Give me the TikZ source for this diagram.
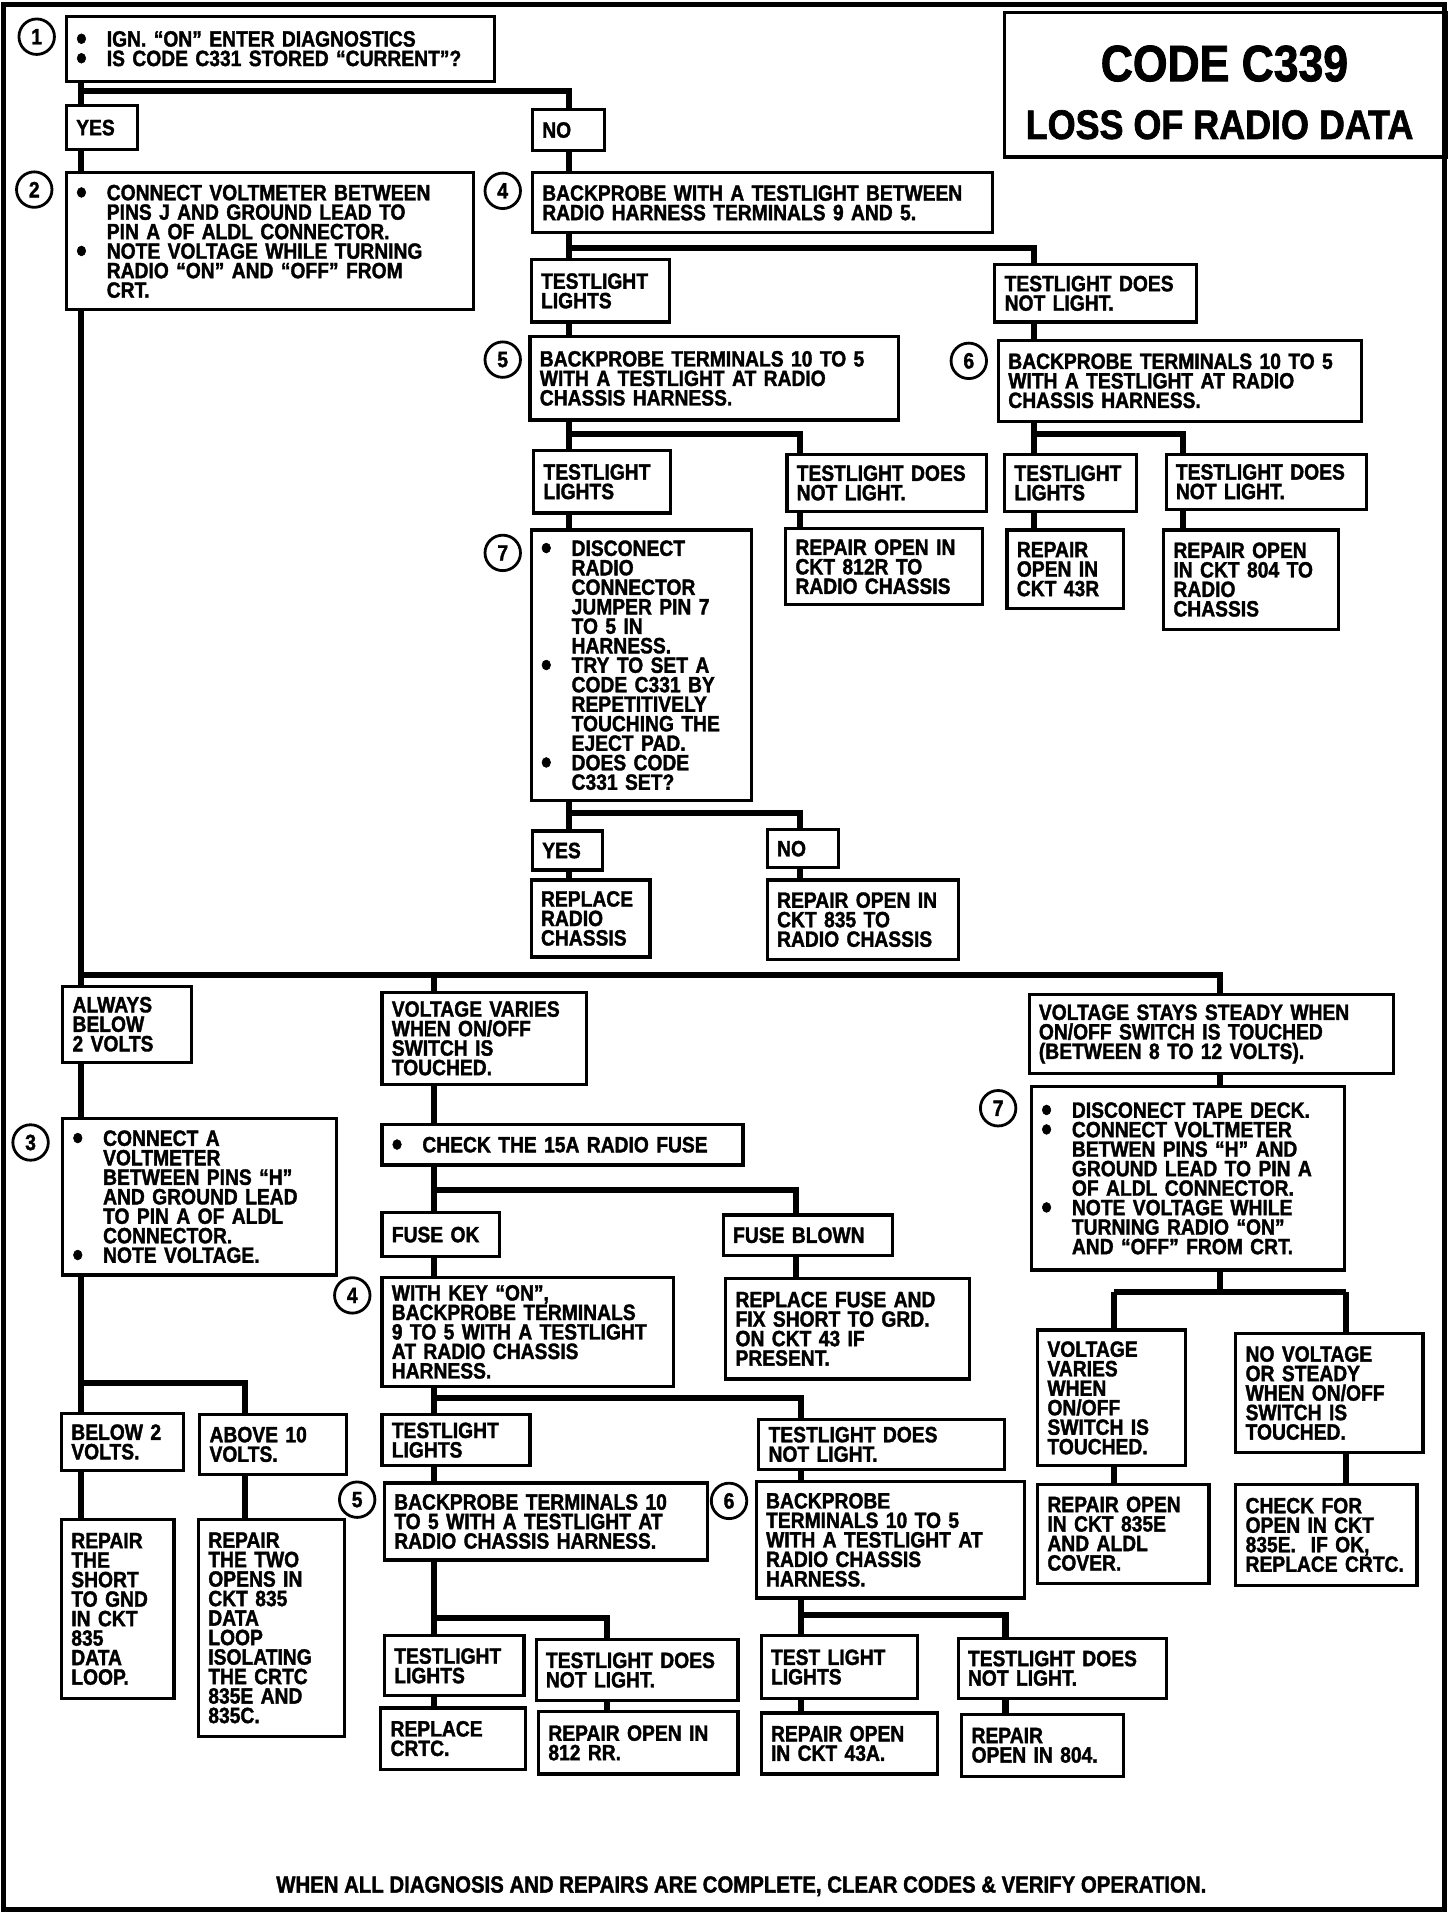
\documentclass[tikz,border=0pt]{standalone}
\usepackage{fontspec}
\setmainfont{Liberation Sans}[FakeStretch=0.87, BoldFeatures={FakeBold=1.6}]
\usepackage{tikz}

\newcommand{\boxfont}{\bfseries\fontsize{10.3}{9.07}\selectfont\lineskiplimit=-5pt}
\newcommand{\blt}{\makebox[0.5cm][l]{\smash{\raisebox{-0.16em}{\fontsize{16}{0}\selectfont\textbullet}}}}
\newcommand{\hng}{\hspace*{0.5cm}}

\begin{document}
\begin{tikzpicture}[x=0.02cm, y=-0.02cm, line join=miter,
  box/.style={draw, line width=1.5pt, anchor=north west, inner xsep=0.16cm, inner ysep=0pt, align=left, font=\boxfont},
  sz/.style 2 args={minimum width=#1*0.02cm, minimum height=#2*0.02cm, text width=#1*0.02cm-0.32cm},
  wire/.style={line width=2.8pt},
  num/.style={draw, circle, line width=1.3pt, minimum size=0.58cm, inner sep=0pt, font=\boxfont}]

\useasboundingbox (0,0) rectangle (1190,1568);

% Cornice e titolo
\draw[line width=2.4pt] (3,4) rectangle (1181,1561);
\node[box, minimum width=361*0.02cm, minimum height=118*0.02cm] (tbox) at (820,9) {};
\node[font=\bfseries\fontsize{23.8}{24}\selectfont] (t1) at (1001,52) {CODE C339};
\node[font=\bfseries\fontsize{19.2}{20}\selectfont] (t2) at (997,102) {LOSS OF RADIO DATA};

% Parte alta
\node[box, sz={350}{53}] (q1) at (53,12) {\blt IGN. ``ON'' ENTER DIAGNOSTICS\\ \blt IS CODE C331 STORED ``CURRENT''?};
\node[box, sz={58}{36}] (yes1) at (53,85) {YES};
\node[box, sz={59}{34}] (no1) at (434,88) {NO};
\node[box, sz={333}{112}] (s2) at (53,140) {\blt CONNECT VOLTMETER BETWEEN\\ \hng PINS J AND GROUND LEAD TO\\ \hng PIN A OF ALDL CONNECTOR.\\ \blt NOTE VOLTAGE WHILE TURNING\\ \hng RADIO ``ON'' AND ``OFF'' FROM\\ \hng CRT.};
\node[box, sz={376}{49}] (s4) at (434,140) {BACKPROBE WITH A TESTLIGHT BETWEEN\\ RADIO HARNESS TERMINALS 9 AND 5.};
\node[box, sz={113}{51}] (tl1) at (433,211) {TESTLIGHT\\ LIGHTS};
\node[box, sz={165}{47}] (tn1) at (812,215) {TESTLIGHT DOES\\ NOT LIGHT.};
\node[box, sz={301}{68}] (s5) at (432,274) {BACKPROBE TERMINALS 10 TO 5\\ WITH A TESTLIGHT AT RADIO\\ CHASSIS HARNESS.};
\node[box, sz={297}{66}] (s6) at (815,277) {BACKPROBE TERMINALS 10 TO 5\\ WITH A TESTLIGHT AT RADIO\\ CHASSIS HARNESS.};
\node[box, sz={112}{51}] (tl5) at (435,367) {TESTLIGHT\\ LIGHTS};
\node[box, sz={163}{47}] (tn5) at (642,370) {TESTLIGHT DOES\\ NOT LIGHT.};
\node[box, sz={108}{47}] (tl6) at (820,370) {TESTLIGHT\\ LIGHTS};
\node[box, sz={164}{45}] (tn6) at (952,370) {TESTLIGHT DOES\\ NOT LIGHT.};
\node[box, sz={180}{221}] (s7) at (433,432) {\blt DISCONECT\\ \hng RADIO\\ \hng CONNECTOR\\ \hng JUMPER PIN 7\\ \hng TO 5 IN\\ \hng HARNESS.\\ \blt TRY TO SET A\\ \hng CODE C331 BY\\ \hng REPETITIVELY\\ \hng TOUCHING THE\\ \hng EJECT PAD.\\ \blt DOES CODE\\ \hng C331 SET?};
\node[box, sz={161}{62}] (r812) at (641,431) {REPAIR OPEN IN\\ CKT 812R TO\\ RADIO CHASSIS};
\node[box, sz={95}{64}] (r43r) at (822,432) {REPAIR\\ OPEN IN\\ CKT 43R};
\node[box, sz={143}{81}] (r804) at (950,432) {REPAIR OPEN\\ IN CKT 804 TO\\ RADIO\\ CHASSIS};
\node[box, sz={57}{32}] (yes7) at (434,678) {YES};
\node[box, sz={58}{31}] (no7) at (626,677) {NO};
\node[box, sz={97}{63}] (rrc) at (433,718) {REPLACE\\ RADIO\\ CHASSIS};
\node[box, sz={156}{65}] (r835) at (626,718) {REPAIR OPEN IN\\ CKT 835 TO\\ RADIO CHASSIS};

% Parte bassa
\node[box, sz={105}{62}] (ab2) at (50,805) {ALWAYS\\ BELOW\\ 2 VOLTS};
\node[box, sz={167}{75}] (vv) at (311,810) {VOLTAGE VARIES\\ WHEN ON/OFF\\ SWITCH IS\\ TOUCHED.};
\node[box, sz={298}{64}] (vs) at (840,812) {VOLTAGE STAYS STEADY WHEN\\ ON/OFF SWITCH IS TOUCHED\\ (BETWEEN 8 TO 12 VOLTS).};
\node[box, sz={224}{128}] (s3) at (50,913) {\blt CONNECT A\\ \hng VOLTMETER\\ \hng BETWEEN PINS ``H''\\ \hng AND GROUND LEAD\\ \hng TO PIN A OF ALDL\\ \hng CONNECTOR.\\ \blt NOTE VOLTAGE.};
\node[box, sz={295}{33}] (chk) at (311,918) {\blt CHECK THE 15A RADIO FUSE};
\node[box, sz={96}{36}] (fok) at (311,990) {FUSE OK};
\node[box, sz={138}{33}] (fbl) at (590,992) {FUSE BLOWN};
\node[box, sz={256}{150}] (s7b) at (842,887) {\blt DISCONECT TAPE DECK.\\ \blt CONNECT VOLTMETER\\ \hng BETWEN PINS ``H'' AND\\ \hng GROUND LEAD TO PIN A\\ \hng OF ALDL CONNECTOR.\\ \blt NOTE VOLTAGE WHILE\\ \hng TURNING RADIO ``ON''\\ \hng AND ``OFF'' FROM CRT.};
\node[box, sz={238}{89}] (s4b) at (311,1043) {WITH KEY ``ON'',\\ BACKPROBE TERMINALS\\ 9 TO 5 WITH A TESTLIGHT\\ AT RADIO CHASSIS\\ HARNESS.};
\node[box, sz={199}{82}] (rfuse) at (592,1044) {REPLACE FUSE AND\\ FIX SHORT TO GRD.\\ ON CKT 43 IF\\ PRESENT.};
\node[box, sz={121}{111}] (vv2) at (847,1086) {VOLTAGE\\ VARIES\\ WHEN\\ ON/OFF\\ SWITCH IS\\ TOUCHED.};
\node[box, sz={153}{97}] (nv) at (1009,1089) {NO VOLTAGE\\ OR STEADY\\ WHEN ON/OFF\\ SWITCH IS\\ TOUCHED.};
\node[box, sz={100}{47}] (b2v) at (49,1154) {BELOW 2\\ VOLTS.};
\node[box, sz={120}{49}] (a10) at (162,1155) {ABOVE 10\\ VOLTS.};
\node[box, sz={121}{42}] (tlb) at (311,1155) {TESTLIGHT\\ LIGHTS};
\node[box, sz={201}{41}] (tnb) at (619,1159) {TESTLIGHT DOES\\ NOT LIGHT.};
\node[box, sz={264}{63}] (s5b) at (313,1211) {BACKPROBE TERMINALS 10\\ TO 5 WITH A TESTLIGHT AT\\ RADIO CHASSIS HARNESS.};
\node[box, sz={219}{95}] (s6b) at (617,1210) {BACKPROBE\\ TERMINALS 10 TO 5\\ WITH A TESTLIGHT AT\\ RADIO CHASSIS\\ HARNESS.};
\node[box, sz={140}{81}] (r835e) at (847,1212) {REPAIR OPEN\\ IN CKT 835E\\ AND ALDL\\ COVER.};
\node[box, sz={148}{83}] (chko) at (1009,1212) {CHECK FOR\\ OPEN IN CKT\\ 835E.\ \ IF OK,\\ REPLACE CRTC.};
\node[box, sz={92}{146}] (rshort) at (49,1241) {REPAIR\\ THE\\ SHORT\\ TO GND\\ IN CKT\\ 835\\ DATA\\ LOOP.};
\node[box, sz={119}{177}] (rtwo) at (161,1241) {REPAIR\\ THE TWO\\ OPENS IN\\ CKT 835\\ DATA\\ LOOP\\ ISOLATING\\ THE CRTC\\ 835E AND\\ 835C.};
\node[box, sz={114}{49}] (tl5b) at (313,1336) {TESTLIGHT\\ LIGHTS};
\node[box, sz={165}{50}] (tn5b) at (437,1339) {TESTLIGHT DOES\\ NOT LIGHT.};
\node[box, sz={128}{51}] (tl6b) at (621,1336) {TEST LIGHT\\ LIGHTS};
\node[box, sz={170}{49}] (tn6b) at (782,1338) {TESTLIGHT DOES\\ NOT LIGHT.};
\node[box, sz={118}{50}] (rcrtc) at (310,1395) {REPLACE\\ CRTC.};
\node[box, sz={163}{51}] (r812rr) at (439,1398) {REPAIR OPEN IN\\ 812 RR.};
\node[box, sz={144}{50}] (r43a) at (621,1399) {REPAIR OPEN\\ IN CKT 43A.};
\node[box, sz={132}{51}] (r804b) at (785,1400) {REPAIR\\ OPEN IN 804.};

% Numeri dei passi
\node[num] (n1) at (30,30) {1};
\node[num] (n2) at (28,155) {2};
\node[num] (n4) at (411,156) {4};
\node[num] (n5) at (411,294) {5};
\node[num] (n6) at (792,295) {6};
\node[num] (n7) at (411,452) {7};
\node[num] (n3) at (25,934) {3};
\node[num] (n7b) at (816,906) {7};
\node[num] (n4b) at (288,1059) {4};
\node[num] (n5b) at (292,1226) {5};
\node[num] (n6b) at (596,1227) {6};

% Nota finale
\node[font=\bfseries\fontsize{10.9}{11}\selectfont] (note) at (606,1542) {WHEN ALL DIAGNOSIS AND REPAIRS ARE COMPLETE, CLEAR CODES \& VERIFY OPERATION.};

% Punti di diramazione
\coordinate (j1) at (66,74);    \coordinate (j1r) at (465,74);
\coordinate (j4) at (465,203);  \coordinate (j4r) at (845,203);
\coordinate (j5) at (465,355);  \coordinate (j5r) at (654,355);
\coordinate (j6) at (845,355);  \coordinate (j6r) at (967,355);
\coordinate (j7) at (465,665);  \coordinate (j7r) at (654,665);
\coordinate (j2) at (66,797);   \coordinate (j2m) at (355,797);  \coordinate (j2r) at (997,797);
\coordinate (jf) at (355,973);  \coordinate (jfr) at (651,973);
\coordinate (j3) at (66,1131);  \coordinate (j3r) at (200,1131);
\coordinate (j8) at (997,1056); \coordinate (j8l) at (911,1056); \coordinate (j8r) at (1100,1056);
\coordinate (j4b) at (355,1143); \coordinate (j4br) at (655,1143);
\coordinate (j5b) at (355,1323); \coordinate (j5br) at (496,1323);
\coordinate (j6b) at (655,1320); \coordinate (j6br) at (822,1320);

% Collegamenti - parte alta
\draw[wire] (q1.south -| j1) -- (yes1.north -| j1);
\draw[wire] (j1) -- (j1r) -- (no1.north -| j1r);
\draw[wire] (yes1.south -| j1) -- (s2.north -| j1);
\draw[wire] (no1.south -| j1r) -- (s4.north -| j1r);
\draw[wire] (s4.south -| j4) -- (tl1.north -| j4);
\draw[wire] (j4) -- (j4r) -- (tn1.north -| j4r);
\draw[wire] (tl1.south -| j4) -- (s5.north -| j4);
\draw[wire] (tn1.south -| j4r) -- (s6.north -| j4r);
\draw[wire] (s5.south -| j5) -- (tl5.north -| j5);
\draw[wire] (j5) -- (j5r) -- (tn5.north -| j5r);
\draw[wire] (s6.south -| j6) -- (tl6.north -| j6);
\draw[wire] (j6) -- (j6r) -- (tn6.north -| j6r);
\draw[wire] (tl5.south -| j5) -- (s7.north -| j5);
\draw[wire] (tn5.south -| j5r) -- (r812.north -| j5r);
\draw[wire] (tl6.south -| j6) -- (r43r.north -| j6);
\draw[wire] (tn6.south -| j6r) -- (r804.north -| j6r);
\draw[wire] (s7.south -| j7) -- (yes7.north -| j7);
\draw[wire] (j7) -- (j7r) -- (no7.north -| j7r);
\draw[wire] (yes7.south -| j7) -- (rrc.north -| j7);
\draw[wire] (no7.south -| j7r) -- (r835.north -| j7r);

% Collegamenti - parte bassa
\draw[wire] (s2.south -| j2) -- (ab2.north -| j2);
\draw[wire] (j2) -- (j2r) -- (vs.north -| j2r);
\draw[wire] (j2m) -- (vv.north -| j2m);
\draw[wire] (ab2.south -| j2) -- (s3.north -| j2);
\draw[wire] (vv.south -| j2m) -- (chk.north -| j2m);
\draw[wire] (chk.south -| jf) -- (fok.north -| jf);
\draw[wire] (jf) -- (jfr) -- (fbl.north -| jfr);
\draw[wire] (fok.south -| jf) -- (s4b.north -| jf);
\draw[wire] (fbl.south -| jfr) -- (rfuse.north -| jfr);
\draw[wire] (vs.south -| j2r) -- (s7b.north -| j2r);
\draw[wire] (s7b.south -| j8) -- (j8);
\draw[wire] (j8l) -- (j8r);
\draw[wire] (j8l) -- (vv2.north -| j8l);
\draw[wire] (j8r) -- (nv.north -| j8r);
\draw[wire] (vv2.south -| j8l) -- (r835e.north -| j8l);
\draw[wire] (nv.south -| j8r) -- (chko.north -| j8r);
\draw[wire] (s3.south -| j3) -- (b2v.north -| j3);
\draw[wire] (j3) -- (j3r) -- (a10.north -| j3r);
\draw[wire] (b2v.south -| j3) -- (rshort.north -| j3);
\draw[wire] (a10.south -| j3r) -- (rtwo.north -| j3r);
\draw[wire] (s4b.south -| j4b) -- (tlb.north -| j4b);
\draw[wire] (j4b) -- (j4br) -- (tnb.north -| j4br);
\draw[wire] (tlb.south -| j4b) -- (s5b.north -| j4b);
\draw[wire] (tnb.south -| j4br) -- (s6b.north -| j4br);
\draw[wire] (s5b.south -| j5b) -- (tl5b.north -| j5b);
\draw[wire] (j5b) -- (j5br) -- (tn5b.north -| j5br);
\draw[wire] (tl5b.south -| j5b) -- (rcrtc.north -| j5b);
\draw[wire] (tn5b.south -| j5br) -- (r812rr.north -| j5br);
\draw[wire] (s6b.south -| j6b) -- (tl6b.north -| j6b);
\draw[wire] (j6b) -- (j6br) -- (tn6b.north -| j6br);
\draw[wire] (tl6b.south -| j6b) -- (r43a.north -| j6b);
\draw[wire] (tn6b.south -| j6br) -- (r804b.north -| j6br);

\end{tikzpicture}
\end{document}
